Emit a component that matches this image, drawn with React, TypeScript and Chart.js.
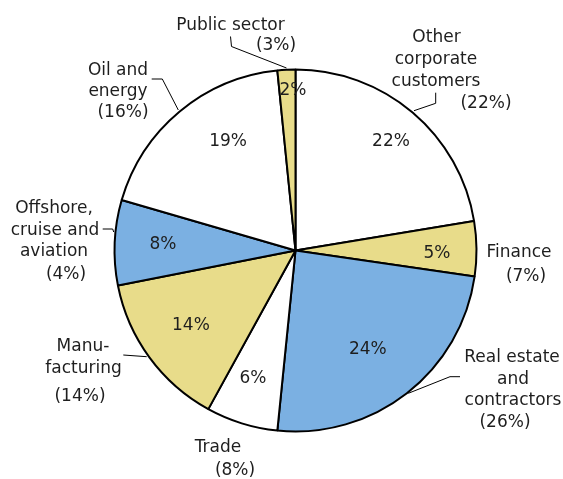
import React, { useEffect, useRef } from "react";
import { Chart, registerables } from "chart.js";

Chart.register(...registerables);

// ---- Data ----
const categories = [
  "Other corporate customers",
  "Finance",
  "Real estate and contractors",
  "Trade",
  "Manufacturing",
  "Offshore, cruise and aviation",
  "Oil and energy",
  "Public sector",
];
const shares = [22.4, 4.9, 24.3, 6.4, 13.9, 7.6, 18.9, 1.6];
const comparisonShares = [22, 7, 26, 8, 14, 4, 16, 3];
const labelLines = [
  ["Other", "corporate", "customers"],
  ["Finance"],
  ["Real estate", "and", "contractors"],
  ["Trade"],
  ["Manu-", "facturing"],
  ["Offshore,", "cruise and", "aviation"],
  ["Oil and", "energy"],
  ["Public sector"],
];

// ---- Styles / layout ----
const YELLOW = "#E8DC8A";
const BLUE = "#7BB0E2";
const WHITE = "#FFFFFF";
const sliceColors = [WHITE, YELLOW, BLUE, WHITE, YELLOW, BLUE, WHITE, YELLOW];
const TEXT_COLOR = "#1e1e1e";
const FONT = "17px 'DejaVu Sans', Verdana, sans-serif";

// inner label placement: [radius fraction, angular nudge in degrees]
const innerPlacement = [
  [0.807, 0.5],
  [0.782, 1.1],
  [0.671, 1.4],
  [0.737, 1.3],
  [0.706, 1.1],
  [0.733, 0.7],
  [0.715, 8.4],
  [0.892, 2.0],
];

// outer label line anchors relative to pie centre (x = text centre, y = baseline), px
const outerPlacement = [
  [[141, -208.5], [140.5, -186.5], [140.5, -164.5], [190.5, -142.5]],
  [[223.5, 6.5], [230.5, 30.5]],
  [[216.5, 111.5], [217.5, 133.5], [217.5, 154.5], [209.5, 176.5]],
  [[-77.5, 201.5], [-60.5, 224.5]],
  [[-212.5, 100.5], [-212, 122.5], [-215.5, 150.5]],
  [[-241.5, -37.5], [-240.5, -15.5], [-241.5, 5.5], [-229.5, 28.5]],
  [[-177.5, -175.5], [-177.5, -154.5], [-172.5, -133.5]],
  [[-65, -220.5], [-19.5, -200.5]],
];

// leader lines relative to pie centre, px
const leaderLines = [
  [[140.2, -157.8], [140.2, -147.2], [118.5, -139.8]],
  null,
  [[164.5, 126.2], [154.5, 126.2], [112.8, 142.8]],
  null,
  [[-172.2, 104.5], [-148.8, 106.2]],
  [[-192.8, -21.5], [-182.8, -21.5], [-181.8, -18.5]],
  [[-143.8, -171.5], [-133.2, -171.5], [-117.2, -140.5]],
  [[-65, -214], [-64, -204], [-9, -182.5]],
];

const labelPlugin = {
  id: "pieLabels",
  afterDatasetsDraw(chart: any) {
    const ctx = chart.ctx;
    const meta = chart.getDatasetMeta(0);
    ctx.save();
    ctx.font = FONT;
    ctx.fillStyle = TEXT_COLOR;
    ctx.textAlign = "center";
    ctx.textBaseline = "alphabetic";
    meta.data.forEach((arc: any, i: number) => {
      const { x, y, startAngle, endAngle, outerRadius } = arc.getProps(
        ["x", "y", "startAngle", "endAngle", "outerRadius"],
        true
      );
      const [frac, nudge] = innerPlacement[i];
      const mid = (startAngle + endAngle) / 2 + (nudge * Math.PI) / 180;
      const lx = x + Math.cos(mid) * outerRadius * frac;
      const ly = y + Math.sin(mid) * outerRadius * frac;
      ctx.fillText(`${Math.round(shares[i])}%`, lx, ly + 6);

      const lines = [...labelLines[i], `(${comparisonShares[i]}%)`];
      const pos = outerPlacement[i];
      lines.forEach((t, j) => {
        ctx.fillText(t, x + pos[j][0], y + pos[j][1]);
      });

      const leader = leaderLines[i];
      if (leader) {
        ctx.save();
        ctx.strokeStyle = "#000";
        ctx.lineWidth = 1;
        ctx.beginPath();
        leader.forEach(([px, py], k) => {
          if (k === 0) ctx.moveTo(x + px, y + py);
          else ctx.lineTo(x + px, y + py);
        });
        ctx.stroke();
        ctx.restore();
      }
    });
    ctx.restore();
  },
};

export default function App() {
  const ref = useRef<HTMLCanvasElement | null>(null);
  useEffect(() => {
    if (!ref.current) return;
    const chart = new Chart(ref.current, {
      type: "pie",
      data: {
        labels: categories,
        datasets: [
          {
            data: shares,
            backgroundColor: sliceColors,
            borderColor: "#000000",
            borderWidth: 2,
          },
        ],
      },
      options: {
        responsive: false,
        animation: false,
        layout: {
          padding: { left: 113.5, right: 85.5, top: 68.5, bottom: 46.5 },
        },
        plugins: {
          legend: { display: false },
          tooltip: { enabled: false },
        },
      },
      plugins: [labelPlugin],
    });
    return () => chart.destroy();
  }, []);
  return (
    <div style={{ position: "absolute", left: 0, top: 0, width: 563, height: 479, background: "#fff" }}>
      <canvas ref={ref} width={563} height={479} style={{ display: "block" }} />
    </div>
  );
}
